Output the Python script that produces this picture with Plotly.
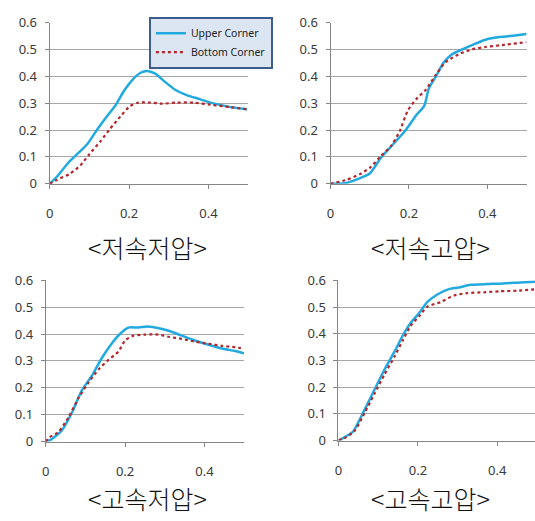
import plotly.graph_objects as go

W, H = 535, 521

# ---- data: <저속저압>
x1_up = [0, 0.018, 0.048, 0.069, 0.094, 0.119, 0.144, 0.165, 0.187, 0.208, 0.229, 0.245, 0.266, 0.29, 0.316, 0.345, 0.378, 0.41, 0.45, 0.497]
y1_up = [0, 0.026, 0.08, 0.11, 0.146, 0.2, 0.25, 0.29, 0.345, 0.386, 0.413, 0.42, 0.41, 0.38, 0.35, 0.33, 0.315, 0.3, 0.287, 0.277]
x1_bo = [0, 0.018, 0.052, 0.077, 0.10, 0.128, 0.153, 0.178, 0.203, 0.224, 0.254, 0.283, 0.32, 0.363, 0.405, 0.455, 0.497]
y1_bo = [0, 0.014, 0.038, 0.068, 0.11, 0.158, 0.206, 0.25, 0.29, 0.302, 0.302, 0.298, 0.302, 0.302, 0.294, 0.285, 0.277]

# ---- data: <저속고압>
x2_up = [0, 0.036, 0.074, 0.1, 0.129, 0.159, 0.192, 0.218, 0.239, 0.251, 0.268, 0.289, 0.31, 0.336, 0.361, 0.395, 0.43, 0.47, 0.5]
y2_up = [0, 0.002, 0.02, 0.038, 0.098, 0.146, 0.2, 0.254, 0.29, 0.356, 0.398, 0.452, 0.482, 0.5, 0.516, 0.536, 0.546, 0.552, 0.557]
x2_bo = [0, 0.04, 0.074, 0.1, 0.129, 0.154, 0.176, 0.197, 0.218, 0.243, 0.268, 0.293, 0.327, 0.361, 0.395, 0.437, 0.5]
y2_bo = [0, 0.014, 0.035, 0.059, 0.104, 0.14, 0.194, 0.272, 0.314, 0.35, 0.404, 0.452, 0.482, 0.5, 0.509, 0.516, 0.527]

# ---- data: <고속저압>
x3_up = [0, 0.011, 0.04, 0.066, 0.091, 0.116, 0.141, 0.166, 0.187, 0.208, 0.234, 0.255, 0.276, 0.31, 0.343, 0.376, 0.41, 0.444, 0.477, 0.5]
y3_up = [0, 0.005, 0.04, 0.107, 0.19, 0.244, 0.31, 0.364, 0.4, 0.424, 0.424, 0.428, 0.424, 0.412, 0.394, 0.376, 0.36, 0.346, 0.337, 0.328]
x3_bo = [0, 0.011, 0.032, 0.057, 0.082, 0.108, 0.133, 0.158, 0.183, 0.2, 0.221, 0.25, 0.284, 0.309, 0.343, 0.376, 0.41, 0.444, 0.477, 0.5]
y3_bo = [0, 0.017, 0.035, 0.089, 0.16, 0.22, 0.268, 0.304, 0.334, 0.376, 0.394, 0.398, 0.398, 0.39, 0.382, 0.372, 0.364, 0.356, 0.351, 0.345]

# ---- data: <고속고압>
x4_up = [0, 0.016, 0.037, 0.058, 0.082, 0.116, 0.141, 0.162, 0.182, 0.203, 0.224, 0.249, 0.278, 0.303, 0.333, 0.374, 0.416, 0.458, 0.5]
y4_up = [0, 0.013, 0.034, 0.092, 0.164, 0.266, 0.333, 0.393, 0.441, 0.477, 0.519, 0.547, 0.567, 0.573, 0.583, 0.586, 0.588, 0.592, 0.595]
x4_bo = [0, 0.02, 0.041, 0.066, 0.091, 0.116, 0.141, 0.162, 0.182, 0.203, 0.224, 0.258, 0.291, 0.324, 0.366, 0.408, 0.45, 0.5]
y4_bo = [0, 0.013, 0.037, 0.104, 0.176, 0.248, 0.314, 0.375, 0.43, 0.465, 0.501, 0.519, 0.543, 0.552, 0.555, 0.559, 0.561, 0.567]

titles = ["<저속저압>", "<저속고압>", "<고속저압>", "<고속고압>"]
series_names = ["Upper Corner", "Bottom Corner"]
x_ticks = [0, 0.2, 0.4]
x_ticklabels = ["0", "0.2", "0.4"]
y_ticks = [0, 0.1, 0.2, 0.3, 0.4, 0.5, 0.6]
y_ticklabels = ["0", "0.1", "0.2", "0.3", "0.4", "0.5", "0.6"]

BLUE = "#22a9df"
RED = "#b3262b"

# pixel boxes: (left, right, top, bottom, xmax)
boxes = [
    (46, 246, 14, 181, 0.5),
    (329, 526.5, 14, 181, 0.5),
    (42, 242, 281, 448, 0.5),
    (337, 535, 281, 447, 0.495),
]
title_pos = [(145, 247), (430, 246), (145, 506), (430, 507)]

data = [(x1_up, y1_up, x1_bo, y1_bo), (x2_up, y2_up, x2_bo, y2_bo),
        (x3_up, y3_up, x3_bo, y3_bo), (x4_up, y4_up, x4_bo, y4_bo)]

fig = go.Figure()
tick_font = dict(family="Noto Sans, Open Sans, sans-serif", size=13, color="#3a3a3a")

for i, (xu, yu, xb, yb) in enumerate(data):
    k = "" if i == 0 else str(i + 1)
    fig.add_trace(go.Scatter(x=xu, y=yu, mode="lines", name=series_names[0],
                             line=dict(color=BLUE, width=2.5, shape="spline", smoothing=0.6),
                             showlegend=(i == 0), xaxis="x" + k, yaxis="y" + k))
    fig.add_trace(go.Scatter(x=xb, y=yb, mode="lines", name=series_names[1],
                             line=dict(color=RED, width=2.2, dash="dot", shape="spline", smoothing=0.6),
                             showlegend=(i == 0), xaxis="x" + k, yaxis="y" + k))
    l, r, t, b, xmax = boxes[i]
    fig.layout["xaxis" + k] = dict(
        domain=[l / W, r / W], range=[0, xmax], anchor="y" + k,
        tickvals=x_ticks, ticktext=x_ticklabels, ticks="outside", ticklen=4,
        tickcolor="#868686", showline=True, linecolor="#868686", linewidth=1,
        showgrid=False, zeroline=False, tickfont=tick_font, ticklabelstandoff=14,
        fixedrange=True)
    fig.layout["yaxis" + k] = dict(
        domain=[1 - b / H, 1 - t / H], range=[0, 0.6], anchor="x" + k,
        tickvals=y_ticks, ticktext=y_ticklabels, ticks="outside", ticklen=4,
        tickcolor="#868686", showline=True, linecolor="#868686", linewidth=1,
        showgrid=True, gridcolor="#a6a6a6", gridwidth=1, zeroline=False,
        tickfont=tick_font, ticklabelstandoff=5, fixedrange=True)
    tx, ty = title_pos[i]
    fig.add_annotation(text=titles[i], x=tx / W, y=1 - ty / H, xref="paper", yref="paper",
                       xanchor="center", yanchor="middle", showarrow=False,
                       font=dict(family="Noto Sans CJK KR", size=25, color="#111111", weight=300))

fig.update_layout(
    width=W, height=H, margin=dict(l=0, r=0, t=0, b=0),
    paper_bgcolor="white", plot_bgcolor="white",
    legend=dict(x=146 / W, y=1 - 8 / H, xanchor="left", yanchor="top",
                bgcolor="#dce6f2", bordercolor="#3d5d8c", borderwidth=2,
                font=dict(family="Noto Sans, sans-serif", size=10.5, color="#222222"),
                itemwidth=30, tracegroupgap=0),
)

fig.write_html("out.html", config={"displayModeBar": False})
